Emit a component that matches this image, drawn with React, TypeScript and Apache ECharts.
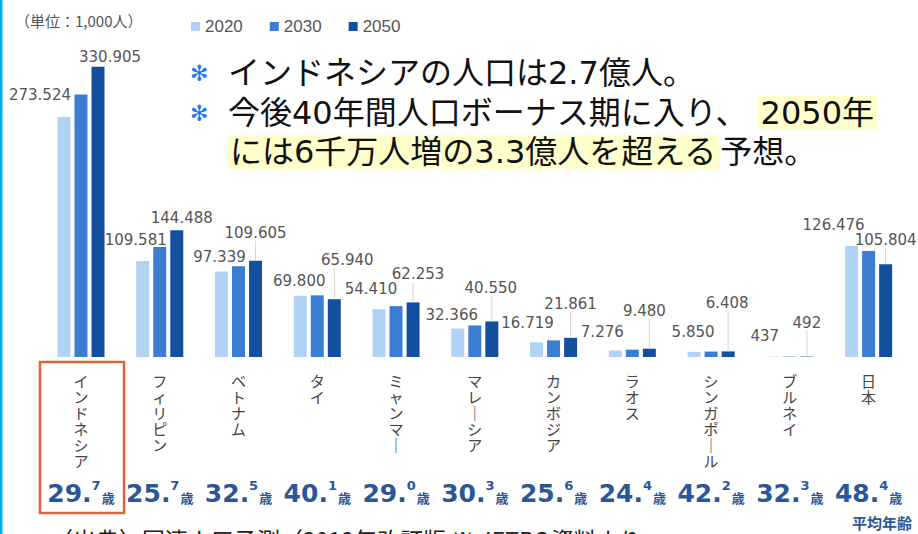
import React, { useEffect, useRef } from "react";
import * as echarts from "echarts";

// ---- data ----
const categories = [
  "インドネシア",
  "フィリピン",
  "ベトナム",
  "タイ",
  "ミャンマー",
  "マレーシア",
  "カンボジア",
  "ラオス",
  "シンガポール",
  "ブルネイ",
  "日本",
];
const seriesNames = ["2020", "2030", "2050"];
// population, unit: 1,000 persons
const pop2020 = [273524, 109581, 97339, 69800, 54410, 32366, 16719, 7276, 5850, 437, 126476];
const pop2030 = [299200, 125300, 103500, 70300, 58000, 36000, 19000, 8400, 6200, 470, 120800];
const pop2050 = [330905, 144488, 109605, 65940, 62253, 40550, 21861, 9480, 6408, 492, 105804];
const avgAge = [29.7, 25.7, 32.5, 40.1, 29.0, 30.3, 25.6, 24.4, 42.2, 32.3, 48.4];
const yMax = 350000;

// ---- label placement (style only) ----
const label2020Offset = [
  [-24, -14], [-7, -13], [-2, -7], [-1, -7], [-8, -12], [-6, -6],
  [-9, -11], [-13, -11], [-1, -12], [-8, -13], [-18, -13],
];
const label2050Offset = [
  [12, -2], [5, -4], [0, -20], [13, -31], [5, -20], [-1, -25],
  [0, -26], [-5, -30], [-1, -40], [0, -26], [0, -16],
];

const colors = ["#b0d2f4", "#3a7dd3", "#134f9d"];
const AGE_COLOR = "#2b5797";
const LEADER_COLOR = "#d4d4d4";
const ANNOT_FONT = "'DejaVu Sans', 'Noto Sans CJK JP', sans-serif";
const JP_FONT = "'Noto Sans CJK JP', sans-serif";
const NUM_FONT = "'DejaVu Sans', sans-serif";

const fmt = (v: number) =>
  Math.round(v)
    .toString()
    .replace(/\B(?=(\d{3})+(?!\d))/g, ".");

const verticalName = (s: string) =>
  s
    .split("")
    .map((c) => (c === "ー" ? "｜" : c))
    .join("\n");

export default function App() {
  const ref = useRef<HTMLDivElement>(null);

  useEffect(() => {
    document.body.style.margin = "0";
    if (!ref.current) return;
    const chart = echarts.init(ref.current, undefined, { renderer: "svg" });

    const valueLabel = {
      show: true,
      position: "top",
      distance: 0,
      fontFamily: NUM_FONT,
      fontSize: 15,
      lineHeight: 16,
      color: "#555",
      formatter: (p: any) => fmt(p.value),
    };

    const data2050 = pop2050.map((v, i) => {
      const [dx, dy] = label2050Offset[i];
      const gap = -dy;
      if (gap < 8) return { value: v, label: { offset: [dx, dy] } };
      const sp = Math.abs(dx) * 2;
      const second = dx > 0 ? "{ln|}{sp|}" : dx < 0 ? "{sp|}{ln|}" : "{ln|}";
      return {
        value: v,
        label: {
          offset: [dx, 0],
          formatter: `{v|${fmt(v)}}\n${second}`,
          rich: {
            v: { fontFamily: NUM_FONT, fontSize: 15, lineHeight: 16, color: "#555" },
            ln: { width: 1, height: gap, lineHeight: gap, backgroundColor: LEADER_COLOR },
            sp: { width: sp, height: gap, lineHeight: gap },
          },
        },
      };
    });

    const hlRich = {
      n: { fontSize: 32, fontFamily: ANNOT_FONT, fill: "#111", lineHeight: 32 },
      s: { fontSize: 32, fontFamily: ANNOT_FONT, fill: "#111", lineHeight: 32 },
      h: {
        fontSize: 32,
        fontFamily: ANNOT_FONT,
        fill: "#111",
        lineHeight: 32,
        backgroundColor: "#ffffcc",
        padding: [1, 3],
      },
    };

    chart.setOption({
      animation: false,
      backgroundColor: "#ffffff",
      color: colors,
      legend: {
        data: seriesNames,
        left: 186,
        top: 13,
        itemWidth: 9,
        itemHeight: 9,
        itemGap: 27,
        icon: "rect",
        textStyle: { fontSize: 17, color: "#555", fontFamily: "'Liberation Sans', sans-serif" },
      },
      grid: { left: 41.6, right: 10, top: 50, bottom: 177 },
      xAxis: [
        {
          type: "category",
          data: categories,
          axisLine: { show: false },
          axisTick: { show: false },
          axisLabel: {
            interval: 0,
            margin: 15,
            fontSize: 15,
            lineHeight: 16,
            color: "#444",
            fontFamily: JP_FONT,
            formatter: (v: string) => verticalName(v),
          },
        },
        {
          type: "category",
          data: categories,
          position: "bottom",
          axisLine: { show: false },
          axisTick: { show: false },
          axisLabel: {
            interval: 0,
            margin: 122,
            formatter: (_v: string, idx: number) => {
              const [ip, dp] = avgAge[idx].toFixed(1).split(".");
              return `{a|${ip}.}{b|${dp}}{c|歳}`;
            },
            rich: {
              a: {
                fontSize: 25,
                fontWeight: "bold",
                fontFamily: NUM_FONT,
                color: AGE_COLOR,
                lineHeight: 28,
              },
              b: {
                fontSize: 13,
                fontWeight: "bold",
                fontFamily: NUM_FONT,
                color: AGE_COLOR,
                lineHeight: 13,
                verticalAlign: "top",
              },
              c: {
                fontSize: 13,
                fontWeight: "bold",
                fontFamily: JP_FONT,
                color: AGE_COLOR,
                lineHeight: 14,
                verticalAlign: "bottom",
                padding: [0, 0, 3, 1],
              },
            },
          },
        },
      ],
      yAxis: { type: "value", min: 0, max: yMax, show: false },
      series: [
        {
          name: seriesNames[0],
          type: "bar",
          barWidth: 13,
          barGap: "31%",
          label: valueLabel,
          data: pop2020.map((v, i) => ({ value: v, label: { offset: label2020Offset[i] } })),
        },
        {
          name: seriesNames[1],
          type: "bar",
          barWidth: 13,
          barGap: "31%",
          data: pop2030,
        },
        {
          name: seriesNames[2],
          type: "bar",
          barWidth: 13,
          barGap: "31%",
          label: valueLabel,
          data: data2050,
        },
      ],
      graphic: [
        {
          type: "rect",
          shape: { x: 0, y: 0, width: 2.5, height: 534 },
          style: { fill: "#00aeef" },
        },
        {
          type: "text",
          x: 15,
          y: 20,
          style: {
            text: "（単位：1,000人）",
            fontSize: 15,
            fontFamily: JP_FONT,
            fill: "#555",
            verticalAlign: "middle",
          },
        },
        {
          type: "text",
          x: 190,
          y: 73,
          style: { text: "✻", fontSize: 22, fontFamily: NUM_FONT, fill: "#1f7bf2", verticalAlign: "middle" },
        },
        {
          type: "text",
          x: 190,
          y: 113,
          style: { text: "✻", fontSize: 22, fontFamily: NUM_FONT, fill: "#1f7bf2", verticalAlign: "middle" },
        },
        {
          type: "text",
          x: 228,
          y: 73,
          style: {
            text: "{n|インドネシアの人口は2.7億人。}",
            rich: hlRich,
            verticalAlign: "middle",
          },
        },
        {
          type: "text",
          x: 228,
          y: 113,
          style: {
            text: "{n|今後40年間人口ボーナス期に入り、}{s| }{h|2050年}",
            rich: hlRich,
            verticalAlign: "middle",
          },
        },
        {
          type: "text",
          x: 227,
          y: 152,
          style: {
            text: "{h|には6千万人増の3.3億人を超える}{n|予想。}",
            rich: hlRich,
            verticalAlign: "middle",
          },
        },
        {
          type: "rect",
          shape: { x: 40, y: 362, width: 84, height: 151 },
          style: { fill: "none", stroke: "#e0633a", lineWidth: 2.5 },
        },
        {
          type: "text",
          x: 912,
          y: 522,
          style: {
            text: "平均年齢",
            fontSize: 15,
            fontWeight: "bold",
            fontFamily: JP_FONT,
            fill: AGE_COLOR,
            align: "right",
            verticalAlign: "middle",
          },
        },
        {
          type: "text",
          x: 50,
          y: 527,
          style: {
            text: "（出典）国連人口予測（2019年改訂版 ※ JETRO資料より",
            fontSize: 23,
            fontFamily: JP_FONT,
            fill: "#222",
            verticalAlign: "top",
          },
        },
      ],
    });

    return () => chart.dispose();
  }, []);

  return <div ref={ref} style={{ width: 918, height: 534 }} />;
}
